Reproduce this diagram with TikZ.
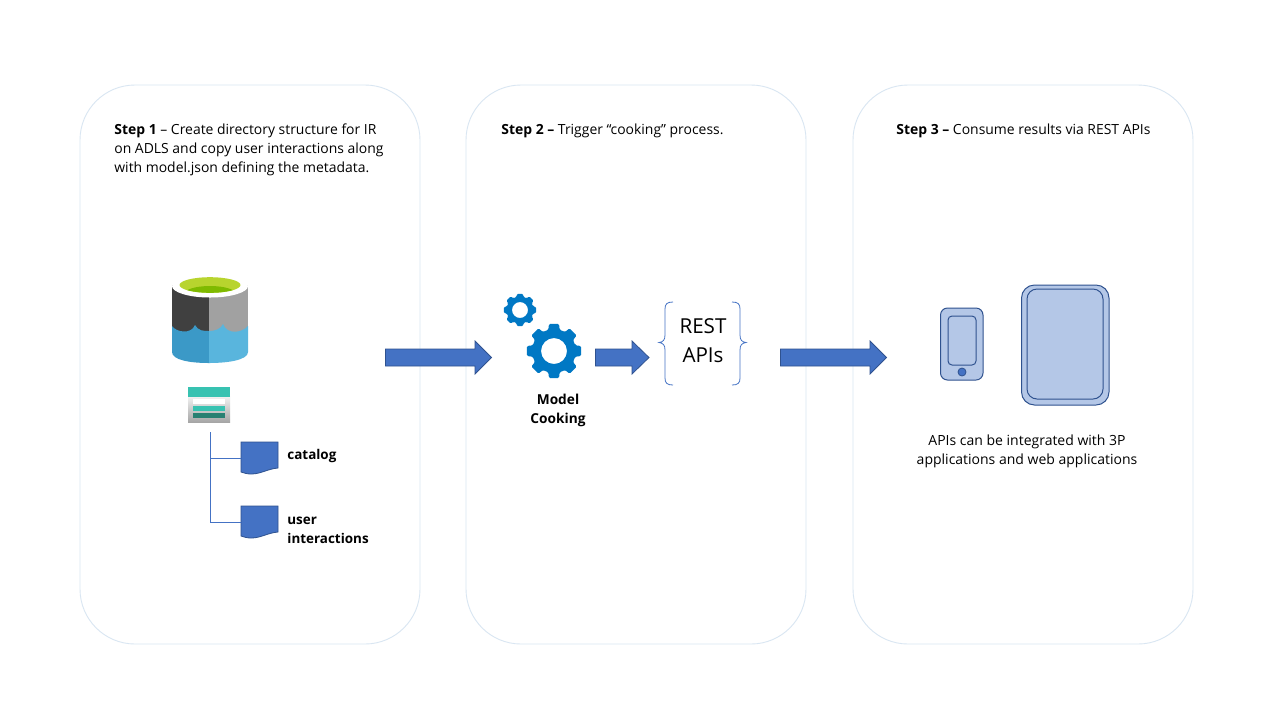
\documentclass[tikz,border=0pt]{standalone}
\usepackage{fontspec}
\setmainfont{Open Sans}
\usetikzlibrary{decorations.pathreplacing,calc}
\definecolor{panel}{HTML}{D9E6F2}
\definecolor{blueA}{HTML}{4472C4}
\definecolor{blueE}{HTML}{2F528F}
\definecolor{blueL}{HTML}{B4C7E7}
\definecolor{gearc}{HTML}{0078C4}
\tikzset{
 panelbox/.style={draw=panel,line width=0.45pt,rounded corners=27.5pt},
 body/.style={font=\fontsize{6.97}{9.5}\selectfont,inner sep=0pt,align=left,anchor=west,text=black},
 bodyc/.style={font=\fontsize{7}{9.5}\selectfont,inner sep=0pt,align=center,text=black},
 boldl/.style={font=\fontsize{6.72}{9.5}\selectfont\bfseries,inner sep=0pt,align=left,anchor=west,text=black},
 boldc/.style={font=\fontsize{6.85}{9.5}\selectfont\bfseries,inner sep=0pt,align=center,text=black},
 flow/.style={fill=blueA,draw=blueE,line width=0.4pt},
 docshape/.style={fill=blueA,draw=blueE,line width=0.4pt},
 treeline/.style={draw=blueA,line width=0.5pt},
 bracec/.style={draw=blueA,line width=0.4pt},
 device/.style={fill=blueL,draw=blueE,line width=0.5pt}
}
\newcommand{\arrowshape}[6]{% x0,x1,xhead,ytop,ybot,name
 \draw[flow] (#1,#4) -- (#3,#4) -- (#3,#4-8) -- (#2,{(#4+#5)/2}) -- (#3,#5+8) -- (#3,#5) -- (#1,#5) -- cycle;
 \coordinate (#6) at (#2,{(#4+#5)/2});
}
\newcommand{\gearshape}[5]{% cx,cy,outer,root,hole
 \fill[gearc,even odd rule,rounded corners=0.6pt]
  ($(#1,#2)+(-15:#4)$)
  \foreach \a in {0,45,...,315}{
    -- ($(#1,#2)+(\a-15:#4)$) -- ($(#1,#2)+(\a-10.5:#3)$) -- ($(#1,#2)+(\a+10.5:#3)$) -- ($(#1,#2)+(\a+15:#4)$)
  } -- cycle
  (#1,#2) circle[radius=#5];
}
\newcommand{\docshape}[3]{% x,y,name
 \draw[docshape] (#1,#2) -- (#1+37,#2) -- (#1+37,#2+26)
   .. controls (#1+26,#2+27) and (#1+20,#2+32) .. (#1+10,#2+32)
   .. controls (#1+6,#2+32) and (#1+3,#2+31) .. (#1,#2+30) -- cycle;
 \coordinate (#3) at (#1,#2+16);
}
\begin{document}
\begin{tikzpicture}[x=0.5pt,y=-0.5pt]
\useasboundingbox (0,0) rectangle (1280,720);
\fill[white] (0,0) rectangle (1280,720);
% panels
\draw[panelbox] (80,85) rectangle (420,644);
\draw[panelbox] (466,85) rectangle (806,644);
\draw[panelbox] (853,85) rectangle (1193,644);
% step text
\node[body] (s1) at (114,150) {\textbf{Step 1} – Create directory structure for IR\\on ADLS and copy user interactions along\\with model.json defining the metadata.};
\node[body] (s2) at (501,131) {\textbf{Step 2 –} Trigger “cooking” process.};
\node[body] (s3) at (896,131) {\textbf{Step 3 –} Consume results via REST APIs};
% data lake cylinder
\fill[fill=black!75] (172,285) rectangle (209,340);
\fill[fill=black!37] (209,285) rectangle (248,340);
\fill[fill={rgb,255:red,59;green,153;blue,199}] (172,326)
  .. controls (176,332) and (191,335) .. (195,325)
  .. controls (198,331) and (204,331) .. (209,331)
  -- (209,363) .. controls (190,363) and (172,360) .. (172,352) -- cycle;
\fill[fill={rgb,255:red,89;green,181;blue,221}] (209,331)
  .. controls (215,331) and (221,329) .. (223,324)
  .. controls (227,335) and (242,333) .. (248,326)
  -- (248,352) .. controls (248,360) and (228,363) .. (209,363) -- cycle;
\fill[white] (210,286) ellipse[x radius=38,y radius=11.5];
\fill[fill={rgb,255:red,184;green,212;blue,46}] (210,285) ellipse[x radius=30.5,y radius=7.8];
\begin{scope}
 \clip (210,285) ellipse[x radius=30.5,y radius=7.8];
 \fill[fill={rgb,255:red,127;green,186;blue,0}] (210,294) ellipse[x radius=26,y radius=8];
\end{scope}
% storage icon
\shade[top color=black!5,bottom color=black!35] (188,396) rectangle (230,422);
\fill[fill={rgb,255:red,55;green,194;blue,177}] (188,387) rectangle (230,396.5);
\fill[white] (193,399) rectangle (225,404);
\fill[fill={rgb,255:red,55;green,194;blue,177}] (193,406) rectangle (225,411);
\fill[fill={rgb,255:red,40;green,128;blue,114}] (193,413) rectangle (225,418);
% files
\docshape{241}{442}{docA}
\docshape{241}{506}{docB}
\coordinate (treeTop) at (210.5,432);
\coordinate (treeBot) at (210.5,522);
\coordinate (treeMid) at (210.5,458);
\draw[treeline] (treeTop) -- (treeBot) -- (docB);
\draw[treeline] (treeMid) -- (docA);
\node[boldl] (catalog) at (287,456) {catalog};
\node[boldl] (ui) at (287,530.5) {user\\interactions};
% arrows
\arrowshape{385.5}{491.5}{475}{349}{366}{arrA}
\arrowshape{595.5}{649}{632}{349}{366}{arrB}
\arrowshape{780.5}{886.5}{870}{349}{366}{arrC}
% gears
\gearshape{554}{351}{27.5}{22}{13}
\gearshape{520}{310}{16.5}{13.5}{8}
\node[boldc] (cook) at (558,410) {Model\\Cooking};
% braces
\draw[bracec] (673,302) .. controls (667,302) and (665,304) .. (665,309) -- (665,335)
  .. controls (665,340) and (663,342) .. (659,342.5)
  .. controls (663,343) and (665,345) .. (665,350) -- (665,378)
  .. controls (665,383) and (667,385) .. (673,385);
\draw[bracec] (732,302) .. controls (738,302) and (740,304) .. (740,309) -- (740,335)
  .. controls (740,340) and (742,342) .. (746,342.5)
  .. controls (742,343) and (740,345) .. (740,350) -- (740,378)
  .. controls (740,383) and (738,385) .. (732,385);
\node[font=\fontsize{10.3}{14.5}\selectfont,inner sep=0pt,align=center] (rest) at (703,341) {REST\\APIs};
% devices
\draw[device,rounded corners=3.5pt] (940.5,308) rectangle (983,380);
\draw[device,rounded corners=2pt] (948,316) rectangle (976,365);
\draw[fill=blueA,draw=blueE,line width=0.4pt] (962,372) circle[radius=4];
\draw[device,rounded corners=6.5pt] (1021.5,285) rectangle (1109,405);
\draw[device,rounded corners=5pt] (1027,289) rectangle (1103,399);
\node[bodyc] (cap) at (1027,451) {APIs can be integrated with 3P\\applications and web applications};
\end{tikzpicture}
\end{document}
